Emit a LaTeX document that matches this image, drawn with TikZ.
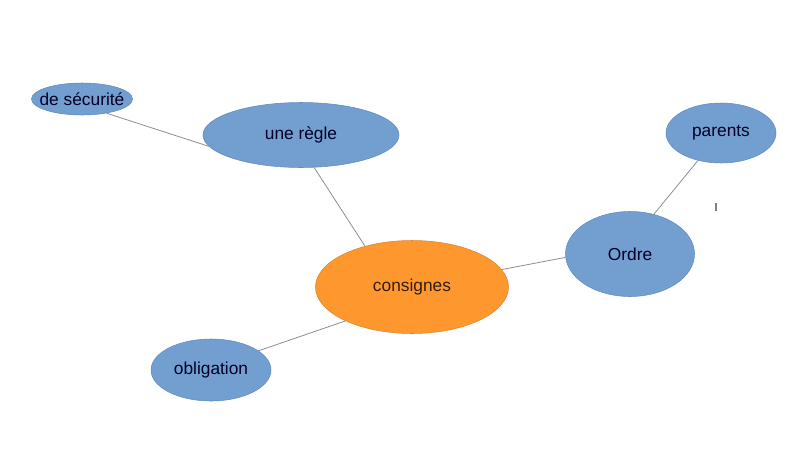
\documentclass[tikz,border=0pt]{standalone}
\usepackage{fontspec}
\setmainfont{Liberation Sans}
\usetikzlibrary{shapes.geometric}

\definecolor{bulle}{HTML}{729FCF}
\definecolor{bord}{HTML}{5E8BC2}
\definecolor{orange}{HTML}{FF972F}
\definecolor{bordorange}{HTML}{D9842E}
\definecolor{trait}{HTML}{8C8C96}

\begin{document}
\begin{tikzpicture}[x=0.75pt,y=-0.75pt,
  bulle/.style={ellipse,draw=bord,fill=bulle,text=black!85!blue,inner sep=0pt,font=\fontsize{13}{15}\selectfont},
  centre/.style={bulle,draw=bordorange,fill=orange,text=black!80!orange},
  lien/.style={trait,line width=0.6pt}]

\useasboundingbox (0,0) rectangle (795,475);

\node[bulle,inner xsep=-5pt,minimum width=101*0.75pt,minimum height=32*0.75pt] (securite) at (82,99) {de sécurité};
\node[bulle,minimum width=196*0.75pt,minimum height=65*0.75pt] (regle) at (301,135) {une règle};
\node[centre,minimum width=193*0.75pt,minimum height=93*0.75pt] (consignes) at (412,287) {consignes};
\node[bulle,minimum width=129*0.75pt,minimum height=85*0.75pt] (ordre) at (630,254) {Ordre};
\node[bulle,minimum width=110*0.75pt,minimum height=60*0.75pt] (parents) at (721,133) {parents};
\node[bulle,minimum width=120*0.75pt,minimum height=62*0.75pt] (obligation) at (211,370) {obligation};

\draw[lien] (securite.-30)--(regle.187);
\draw[lien] (regle.-68)--(consignes.139);
\draw[lien] (consignes.207)--(obligation.22);
\draw[lien] (consignes.11)--(ordre.183);
\draw[lien] (ordre.59)--(parents.230);

\draw[gray,line width=0.8pt] (716,203)--(716,211);

\end{tikzpicture}
\end{document}
